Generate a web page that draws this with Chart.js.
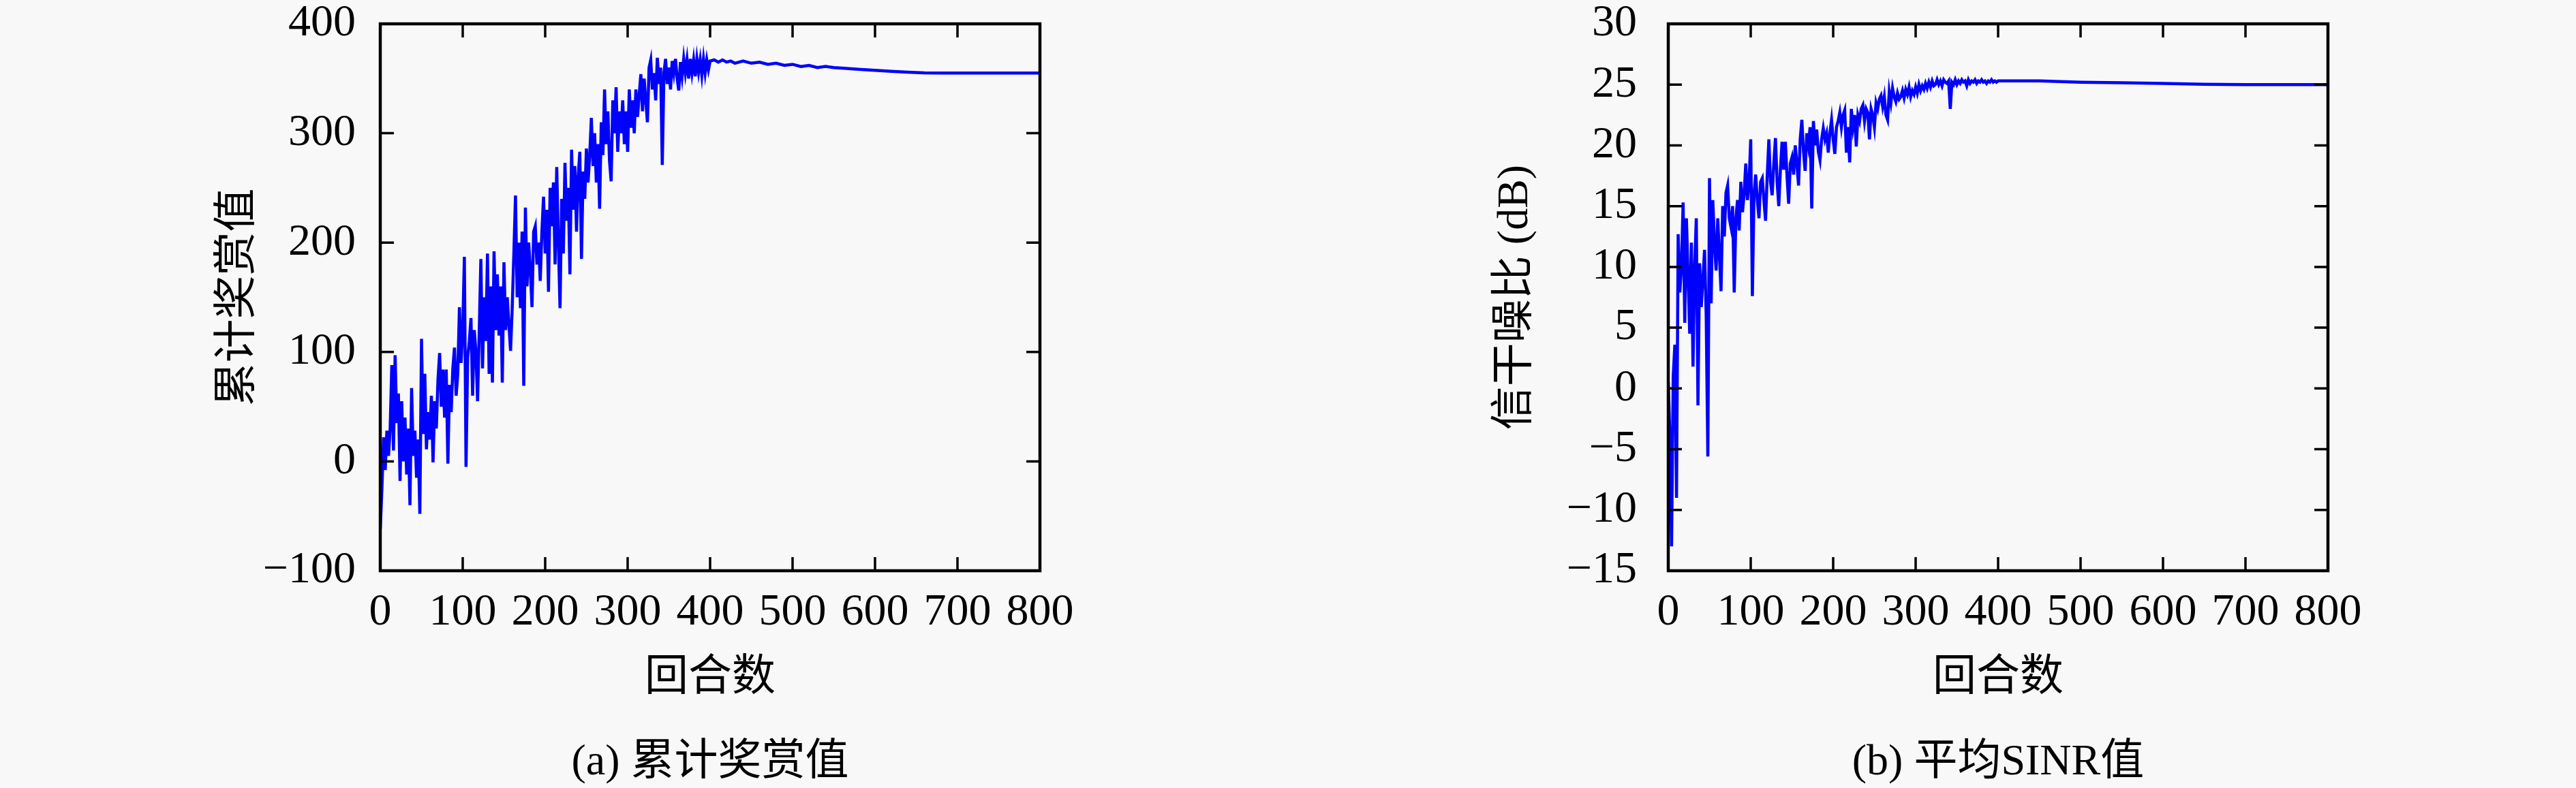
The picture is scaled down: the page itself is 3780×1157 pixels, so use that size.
<!DOCTYPE html>
<html>
<head>
<meta charset="utf-8">
<script src="https://cdn.jsdelivr.net/npm/chart.js@4.4.1/dist/chart.umd.min.js"></script>
<style>
  body { margin: 0; background: #f8f8f8; }
  #wrap { position: relative; width: 3780px; height: 1157px; background: #f8f8f8; }
  canvas { position: absolute; top: 0; }
  .cap {
    position: absolute; width: 900px; text-align: center;
    font-family: "Liberation Serif", "Noto Sans CJK SC", serif;
    font-size: 64px; line-height: 76px; color: #000; white-space: pre;
  }
</style>
</head>
<body>
<div id="wrap">
  <canvas id="rewardChart" width="1890" height="1157" style="left:0"></canvas>
  <canvas id="sinrChart" width="1890" height="1157" style="left:1890px"></canvas>
  <div class="cap" style="left:592px;top:1078px">(a) 累计奖赏值</div>
  <div class="cap" style="left:2482px;top:1078px">(b) 平均SINR值</div>
</div>
<script>
// episodes 0..400 sampled every EARLY_STEP, then sparse points for the flat tail
const EARLY_STEP = 2;

const rewardEarly = [
  -62, -25, 22, -8, 28, 5, 30, 88, 10, 97, 35, 62, -18, 55, 0, 40, -12, 30, -40, 67,
  5, 28, -15, 20, -48, 112, 25, 80, 11, 45, 20, 60, -1, 55, 30, 75, 99, 50, 84, 40,
  84, -2, 70, 45, 85, 104, 60, 80, 141, 90, 120, 187, -5, 95, 110, 131, 60, 120, 100, 55,
  118, 185, 85, 150, 110, 190, 80, 160, 72, 192, 120, 171, 115, 160, 72, 182, 120, 150, 125, 101,
  140, 190, 243, 150, 200, 140, 210, 69, 232, 160, 200, 175, 141, 210, 215, 180, 200, 165, 210, 242,
  190, 230, 155, 250, 215, 255, 180, 269, 200, 140, 240, 190, 273, 220, 250, 171, 285, 230, 270, 210,
  260, 283, 185, 265, 240, 286, 255, 280, 314, 270, 300, 255, 290, 231, 310, 280, 340, 290, 320, 275,
  256, 330, 300, 342, 283, 320, 300, 330, 290, 320, 283, 340, 305, 330, 300, 340, 315, 335, 354, 320,
  350, 330, 310, 360, 367, 340, 355, 330, 369, 345, 360, 271, 355, 368, 345, 360, 340, 366, 355, 368,
  350, 339, 365, 352, 368, 355, 367, 350, 368, 355, 367, 352, 368, 356, 367, 353, 368, 355, 367, 358,
  366
];
const rewardLateEpisodes = [405, 410, 415, 420, 425, 430, 440, 450, 460, 470, 480, 490, 500, 510, 520, 530, 540, 550, 560, 580, 600, 620, 640, 660, 680, 700, 800];
const rewardLate = [367, 365, 367, 365, 366, 364, 366, 364, 365, 363, 364, 362, 363, 361, 362, 360, 361, 360, 359.5, 358.5, 357.5, 356.5, 355.8, 355.2, 355, 355, 355];

const sinrEarly = [
  0.5, -4, -13, 1, 3.6, -9, 12.7, 7.9, 10, 15.3, 5.4, 14, 9.4, 4.5, 12, 1.8, 10, 14, -1.4, 10.3,
  6.7, 9, 11.4, 6, -5.6, 17.3, 7, 15.5, 12, 9.7, 14, 11, 8, 15, 12.5, 16.1, 16.7, 14, 13.3, 15,
  7.9, 14, 15.5, 13, 17, 14.5, 16, 18.5, 15.5, 17, 20.5, 7.6, 16, 17.6, 15.5, 14, 17, 17.3, 15.5, 13.8,
  17.5, 20.5, 17, 15.9, 18.5, 20.6, 17, 15, 18, 20.3, 18, 20.3, 17.5, 15.2, 18.5, 19, 17.6, 20, 18.5, 16.7,
  20.5, 22.1, 19.5, 17.9, 21, 20, 21.5, 14.8, 22, 20, 21.3, 19.5, 18.8, 20.5, 21.4, 20.5, 21, 19.4, 21, 22.1,
  20.5, 19.3, 21.5, 22, 22.7, 21.5, 22.5, 22.9, 19.4, 21.5, 18.6, 23, 21.5, 22.5, 19.9, 22.5, 22, 23, 23.3, 22,
  23, 22.7, 20.5, 23, 22.5, 21.5, 23.5, 23, 23.8, 24.1, 23.2, 24, 22.5, 22.1, 24.4, 23.5, 24.7, 24, 23.6, 24.3,
  23.8, 24, 24.5, 23.9, 24.6, 24.2, 24.8, 24, 24.5, 24.2, 24.8, 24.3, 25, 24.5, 24.9, 24.6, 25.1, 24.7, 25.2, 24.8,
  25.3, 24.9, 25, 25.4, 25, 25.3, 24.9, 25.4, 25.2, 25.1, 25.3, 23, 25.2, 25, 25.4, 25, 25.3, 25.1, 25.4, 25.2,
  25.3, 24.9, 25.4, 25.1, 25.3, 25.2, 25.4, 25.1, 25.3, 25.2, 25.4, 25.2, 25.3, 25.1, 25.3, 25.2, 25.4, 25.2, 25.3, 25.2,
  25.3
];
const sinrLateEpisodes = [420, 450, 500, 550, 600, 650, 700, 800];
const sinrLate = [25.3, 25.3, 25.2, 25.15, 25.1, 25.02, 25.0, 25.0];

const xTicks = [0, 100, 200, 300, 400, 500, 600, 700, 800];

const SERIF = "'Liberation Serif', 'Noto Sans CJK SC', serif";
const TICK_LEN = 20;

function toPoints(early, lateEps, late) {
  const pts = early.map((v, i) => ({ x: i * EARLY_STEP, y: v }));
  lateEps.forEach((ep, i) => pts.push({ x: ep, y: late[i] }));
  return pts;
}

// box frame with inward ticks on all four sides
const frameTicks = {
  id: 'frameTicks',
  afterDatasetsDraw(chart) {
    const { ctx, chartArea: a, scales: { x, y } } = chart;
    ctx.save();
    ctx.strokeStyle = '#000';
    ctx.lineWidth = 3.5;
    ctx.beginPath();
    x.ticks.forEach(t => {
      const px = x.getPixelForValue(t.value);
      ctx.moveTo(px, a.bottom); ctx.lineTo(px, a.bottom - TICK_LEN);
      ctx.moveTo(px, a.top); ctx.lineTo(px, a.top + TICK_LEN);
    });
    y.ticks.forEach(t => {
      const py = y.getPixelForValue(t.value);
      ctx.moveTo(a.left, py); ctx.lineTo(a.left + TICK_LEN, py);
      ctx.moveTo(a.right, py); ctx.lineTo(a.right - TICK_LEN, py);
    });
    ctx.stroke();
    ctx.lineWidth = 4.5;
    ctx.strokeRect(a.left, a.top, a.width, a.height);
    ctx.restore();
  }
};

function makeChart(canvasId, points, yMin, yMax, yStep, yTitle, opts) {
  return new Chart(document.getElementById(canvasId), {
    type: 'line',
    data: {
      datasets: [{
        data: points,
        borderColor: '#0000ff',
        borderWidth: 4.5,
        pointRadius: 0,
        tension: 0,
        fill: false,
      }],
    },
    options: {
      responsive: false,
      animation: false,
      devicePixelRatio: 1,
      layout: { padding: { left: opts.padLeft, top: 35, right: 364, bottom: 0 } },
      plugins: { legend: { display: false }, tooltip: { enabled: false } },
      scales: {
        x: {
          type: 'linear', min: 0, max: 800,
          afterBuildTicks: s => { s.ticks = xTicks.map(v => ({ value: v })); },
          afterFit: s => { s.height = 319; s.paddingLeft = 0; s.paddingRight = 0; },
          grid: { display: false, drawTicks: false },
          border: { display: false },
          ticks: { color: '#000', padding: 22, maxRotation: 0, autoSkip: false,
                   font: { family: SERIF, size: 66, lineHeight: 1.2 } },
          title: { display: true, text: '回合数', color: '#000',
                   padding: { top: 0, bottom: 122 },
                   font: { family: SERIF, size: 64, lineHeight: 1.2 } },
        },
        y: {
          min: yMin, max: yMax,
          ticks: { stepSize: yStep, color: '#000', padding: opts.tickPad,
                   font: { family: SERIF, size: 66, lineHeight: 1.2 },
                   callback: v => String(v).replace('-', '\u2212') },
          afterFit: s => { s.width = 558 - opts.padLeft; s.paddingTop = 0; s.paddingBottom = 0; },
          grid: { display: false, drawTicks: false },
          border: { display: false },
          title: { display: true, text: yTitle, color: '#000',
                   padding: { top: opts.titlePad, bottom: 0 },
                   font: { family: SERIF, size: 64, lineHeight: 1.2 } },
        },
      },
    },
    plugins: [frameTicks],
  });
}

makeChart('rewardChart', toPoints(rewardEarly, rewardLateEpisodes, rewardLate),
  -100, 400, 100, '累计奖赏值', { padLeft: 300, titlePad: 12, tickPad: 36 });
makeChart('sinrChart', toPoints(sinrEarly, sinrLateEpisodes, sinrLate),
  -15, 30, 5, '信干噪比 (dB)', { padLeft: 296, titlePad: 0, tickPad: 46 });
</script>
</body>
</html>
